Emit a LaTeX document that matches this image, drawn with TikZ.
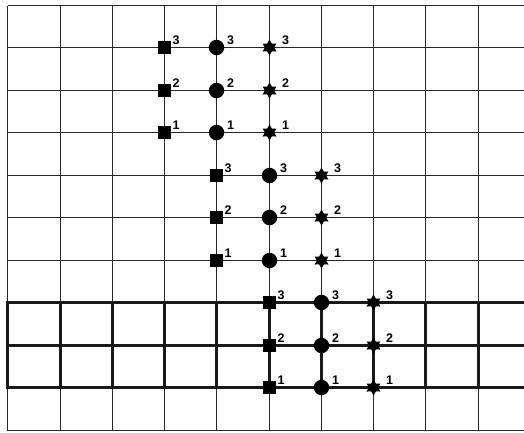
\documentclass[tikz,border=0pt]{standalone}
\usepackage{fontspec}
\setmainfont{Liberation Sans}
\usetikzlibrary{shapes.geometric}
\begin{document}
\begin{tikzpicture}[x=1pt,y=-1pt,
  thingrid/.style={draw=black!85,line width=1pt},
  thickgrid/.style={draw=black!90,line width=3pt,line cap=rect},
  sqmark/.style={rectangle,fill=black,minimum size=12.5pt,inner sep=0pt},
  circmark/.style={circle,fill=black,minimum size=15.5pt,inner sep=0pt},
  starmark/.style={star,star points=6,star point ratio=1.75,fill=black,minimum size=16pt,inner sep=0pt},
  num/.style={font=\bfseries\fontsize{12.5}{12.5}\selectfont,inner sep=0pt}]
\def\xs{{7.5,60.5,112.5,164.5,216.5,269.5,321.5,373.5,425.5,478.5}}
\def\ys{{5.5,47.5,90.5,132.5,175.5,217.5,260.5,302.5,345.5,387.5,430.5}}
\useasboundingbox (0,0) rectangle (524,432);
% thin grid
\foreach \x in {7.5,60.5,112.5,164.5,216.5,269.5,321.5,373.5,425.5,478.5}
  \draw[thingrid] (\x,5.5) -- (\x,430.5);
\foreach \y in {5.5,47.5,90.5,132.5,175.5,217.5,260.5,302.5,345.5,387.5,430.5}
  \draw[thingrid] (7.5,\y) -- (524,\y);
% thick band
\foreach \y in {302.5,345.5,387.5} \draw[thickgrid] (7.5,\y) -- (524,\y);
\foreach \x in {7.5,60.5,112.5,164.5,216.5,269.5,321.5,373.5,425.5,478.5}
  \draw[thickgrid] (\x,302.5) -- (\x,387.5);
% markers
\foreach \g in {0,1,2}{
  \foreach \k in {1,2,3}{
    \pgfmathsetmacro\yy{\ys[3*\g+4-\k]}
    \pgfmathsetmacro\xa{\xs[3+\g]}
    \pgfmathsetmacro\xb{\xs[4+\g]}
    \pgfmathsetmacro\xc{\xs[5+\g]}
    \node[sqmark] (sq\g\k) at (\xa,\yy) {};
    \node[num] (sqn\g\k) at (\xa+11.5,\yy-7) {\k};
    \node[circmark] (ci\g\k) at (\xb,\yy) {};
    \node[num] (cin\g\k) at (\xb+14,\yy-7) {\k};
    \node[starmark] (st\g\k) at (\xc,\yy) {};
    \node[num] (stn\g\k) at (\xc+16,\yy-7) {\k};
  }
}
\end{tikzpicture}
\end{document}
